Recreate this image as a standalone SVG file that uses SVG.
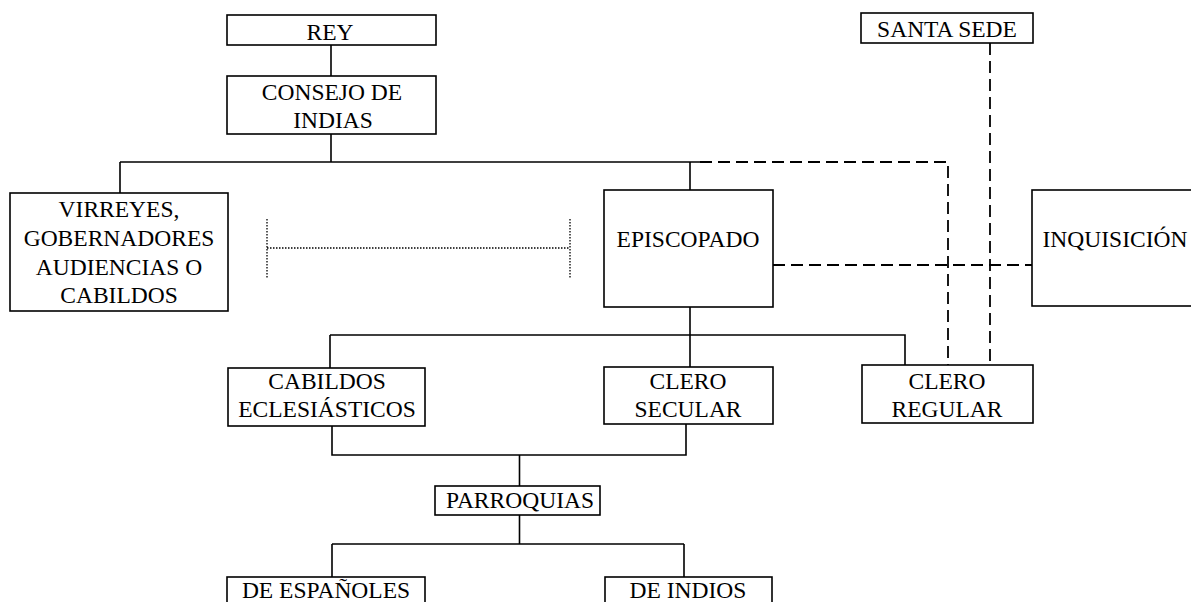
<svg xmlns="http://www.w3.org/2000/svg" width="1191" height="602" viewBox="0 0 1191 602">
<style>
.box{fill:#fff;stroke:#000;stroke-width:1.6}
.t{font-family:"Liberation Serif","Times New Roman",serif;font-size:23.5px;fill:#000;text-anchor:middle}
.ln{fill:none;stroke:#000;stroke-width:1.6}
.dash{fill:none;stroke:#000;stroke-width:1.8;stroke-dasharray:12 6}
.dot{fill:none;stroke:#000;stroke-width:1.3;stroke-dasharray:1.5 1.5}
</style>
<rect width="1191" height="602" fill="#fff"/>
<g id="connectors">
<path class="ln" d="M331 45V76M331 134V162M120 162H700M120 162V193M690 162V190"/>
<path class="dash" d="M700 162H948V365M990 43V365M773 265H1032"/>
<path class="ln" d="M690 307V367M330 335H905V365M330 335V368"/>
<path class="ln" d="M332 426V455H686V424M519.5 455V486M519.5 515V544M332 544H684M332 544V577M684 544V577"/>
<path class="dot" d="M267 219V279M570 219V279M267 248H570"/>
</g>
<g id="rey"><rect class="box" x="227" y="15" width="209" height="30"/><text class="t" x="330" y="40">REY</text></g>
<g id="consejo"><rect class="box" x="227" y="76" width="209" height="58"/><text class="t" x="332" y="100">CONSEJO DE</text><text class="t" x="333" y="128">INDIAS</text></g>
<g id="santa-sede"><rect class="box" x="861" y="13" width="172" height="30"/><text class="t" x="947" y="37">SANTA SEDE</text></g>
<g id="virreyes"><rect class="box" x="10" y="193" width="218" height="118"/>
<text class="t" x="119" y="217">VIRREYES,</text><text class="t" x="119" y="246">GOBERNADORES</text><text class="t" x="119" y="275">AUDIENCIAS O</text><text class="t" x="119" y="303">CABILDOS</text></g>
<g id="episcopado"><rect class="box" x="604" y="190" width="169" height="117"/><text class="t" x="688" y="247">EPISCOPADO</text></g>
<g id="inquisicion"><rect class="box" x="1032" y="190" width="170" height="116"/><text class="t" x="1115" y="247">INQUISICIÓN</text></g>
<g id="cabildos-ecl"><rect class="box" x="228" y="368" width="197" height="58"/><text class="t" x="327" y="389">CABILDOS</text><text class="t" x="327" y="417">ECLESIÁSTICOS</text></g>
<g id="clero-secular"><rect class="box" x="604" y="367" width="169" height="57"/><text class="t" x="688" y="389">CLERO</text><text class="t" x="688" y="417">SECULAR</text></g>
<g id="clero-regular"><rect class="box" x="862" y="365" width="171" height="58"/><text class="t" x="947" y="389">CLERO</text><text class="t" x="947" y="417">REGULAR</text></g>
<g id="parroquias"><rect class="box" x="435" y="486" width="165" height="29"/><text class="t" x="520" y="508">PARROQUIAS</text></g>
<g id="de-espanoles"><rect class="box" x="227" y="577" width="198" height="40"/><text class="t" x="326" y="598">DE ESPAÑOLES</text></g>
<g id="de-indios"><rect class="box" x="605" y="577" width="167" height="40"/><text class="t" x="688" y="598">DE INDIOS</text></g>
</svg>
